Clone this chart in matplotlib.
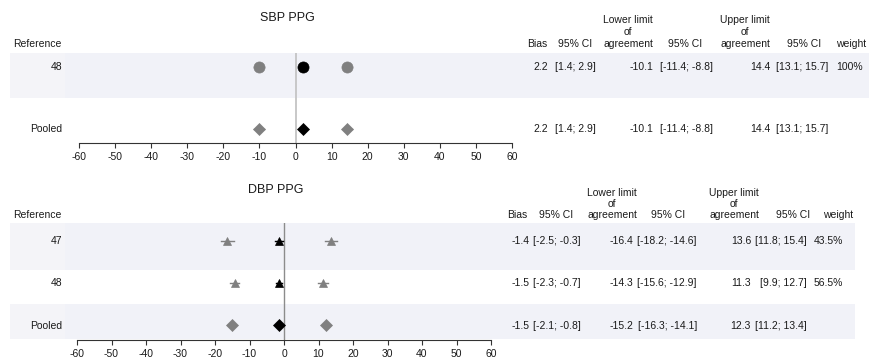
import matplotlib
matplotlib.use("Agg")
import matplotlib.pyplot as plt
from matplotlib.patches import Rectangle

plt.rcParams['font.family'] = ['Liberation Sans', 'DejaVu Sans']

# ---- data ----
sbp_refs = ["48"]
sbp_bias = [2.2]
sbp_bias_ci = [(1.4, 2.9)]
sbp_lla = [-10.1]
sbp_lla_ci = [(-11.4, -8.8)]
sbp_ula = [14.4]
sbp_ula_ci = [(13.1, 15.7)]
sbp_weight = ["100%"]
sbp_pooled_bias = 2.2
sbp_pooled_bias_ci = (1.4, 2.9)
sbp_pooled_lla = -10.1
sbp_pooled_lla_ci = (-11.4, -8.8)
sbp_pooled_ula = 14.4
sbp_pooled_ula_ci = (13.1, 15.7)

dbp_refs = ["47", "48"]
dbp_bias = [-1.4, -1.5]
dbp_bias_ci = [(-2.5, -0.3), (-2.3, -0.7)]
dbp_lla = [-16.4, -14.3]
dbp_lla_ci = [(-18.2, -14.6), (-15.6, -12.9)]
dbp_ula = [13.6, 11.3]
dbp_ula_ci = [(11.8, 15.4), (9.9, 12.7)]
dbp_weight = ["43.5%", "56.5%"]
dbp_pooled_bias = -1.5
dbp_pooled_bias_ci = (-2.1, -0.8)
dbp_pooled_lla = -15.2
dbp_pooled_lla_ci = (-16.3, -14.1)
dbp_pooled_ula = 12.3
dbp_pooled_ula_ci = (11.2, 13.4)

xticks = list(range(-60, 61, 10))

# ---- figure ----
W, H = 870, 361
fig = plt.figure(figsize=(W / 100, H / 100), dpi=100)
FS = 7.5
GREY = '#808080'
BAND = '#f1f2f8'
BAND_LEFT = '#f4f4f8'


def fx(x):
    return x / W


def fy(y):
    return 1 - y / H


def txt(x, y, s, ha='left', size=FS, **kw):
    fig.text(fx(x), fy(y), s, ha=ha, va='center', fontsize=size,
             color='#1a1a1a', **kw)


def band(x0, x1, y0, y1):
    for a, b, c in ((x0, 65, BAND_LEFT), (65, x1, BAND)):
        fig.patches.append(Rectangle((fx(a), fy(y1)), fx(b) - fx(a),
                                     fy(y0) - fy(y1),
                                     transform=fig.transFigure,
                                     facecolor=c, edgecolor='none',
                                     zorder=-5))


def fmt(v):
    return f"{v:.1f}"


def fmt_ci(ci):
    return f"[{ci[0]:.1f}; {ci[1]:.1f}]"


def make_axes(left, right, top, bottom, ylim, zero_color, zero_lw):
    ax = fig.add_axes([fx(left), fy(bottom), fx(right) - fx(left),
                       fy(top) - fy(bottom)])
    ax.set_facecolor('none')
    ax.set_xlim(-60, 60)
    ax.set_ylim(*ylim)
    for s in ('top', 'right', 'left'):
        ax.spines[s].set_visible(False)
    ax.spines['bottom'].set_color('#333333')
    ax.spines['bottom'].set_linewidth(0.8)
    ax.set_yticks([])
    ax.set_xticks(xticks)
    ax.set_xticklabels([str(t) for t in xticks])
    ax.tick_params(axis='x', length=3.8, width=0.8, pad=2.5, labelsize=FS,
                   color='#333333', labelcolor='#1a1a1a')
    ax.axvline(0, color=zero_color, lw=zero_lw, zorder=1)
    return ax


def draw_row(ax, y, bias, bias_ci, lla, lla_ci, ula, ula_ci, marker, ms):
    for v, ci, col in ((lla, lla_ci, GREY), (ula, ula_ci, GREY),
                       (bias, bias_ci, 'black')):
        ax.plot([ci[0], ci[1]], [y, y], color=col, lw=1.0, zorder=2)
        ax.plot([v], [y], marker=marker, ms=ms, color=col, mec=col,
                mew=0.5, linestyle='none', zorder=3)


# ================= SBP panel =================
band(10, 870, 53, 98)
ax1 = make_axes(79, 512, 53, 143, (-14 / 62, 1 + 14 / 62), '#c4c4c4', 1.3)
draw_row(ax1, 1, sbp_bias[0], sbp_bias_ci[0], sbp_lla[0], sbp_lla_ci[0],
         sbp_ula[0], sbp_ula_ci[0], 'o', 8)
draw_row(ax1, 0, sbp_pooled_bias, sbp_pooled_bias_ci, sbp_pooled_lla,
         sbp_pooled_lla_ci, sbp_pooled_ula, sbp_pooled_ula_ci, 'D', 6.4)

txt(287, 18, "SBP PPG", ha='center', size=9)
txt(62, 44, "Reference", ha='right')
txt(62, 67, sbp_refs[0], ha='right')
txt(62, 129, "Pooled", ha='right')

# table header
for x, lines in ((537, ["Bias"]), (575, ["95% CI"]),
                 (628, ["Lower limit", "of", "agreement"]), (685, ["95% CI"]),
                 (745, ["Upper limit", "of", "agreement"]), (804, ["95% CI"]),
                 (851, ["weight"])):
    for i, s in enumerate(reversed(lines)):
        txt(x, 44 - 12 * i, s, ha='center')

top_cols = (548, 596, 653, 713, 770, 828, 863)
rows = [(67, sbp_bias[0], sbp_bias_ci[0], sbp_lla[0], sbp_lla_ci[0],
         sbp_ula[0], sbp_ula_ci[0], sbp_weight[0]),
        (129, sbp_pooled_bias, sbp_pooled_bias_ci, sbp_pooled_lla,
         sbp_pooled_lla_ci, sbp_pooled_ula, sbp_pooled_ula_ci, "")]
for y, b, bci, l, lci, u, uci, w in rows:
    vals = (fmt(b), fmt_ci(bci), fmt(l), fmt_ci(lci), fmt(u), fmt_ci(uci), w)
    for x, s in zip(top_cols, vals):
        txt(x, y, s, ha='right')

# ================= DBP panel =================
band(10, 855, 223, 270)
band(10, 855, 304, 339)
ax2 = make_axes(77, 491, 223, 340, (-15 / 42, 2 + 18 / 42), '#8c8c8c', 1.0)
for i in range(len(dbp_refs)):
    draw_row(ax2, 2 - i, dbp_bias[i], dbp_bias_ci[i], dbp_lla[i],
             dbp_lla_ci[i], dbp_ula[i], dbp_ula_ci[i], '^', 6)
draw_row(ax2, 0, dbp_pooled_bias, dbp_pooled_bias_ci, dbp_pooled_lla,
         dbp_pooled_lla_ci, dbp_pooled_ula, dbp_pooled_ula_ci, 'D', 6.4)

txt(276, 190, "DBP PPG", ha='center', size=9)
txt(62, 215, "Reference", ha='right')
txt(62, 241, dbp_refs[0], ha='right')
txt(62, 283, dbp_refs[1], ha='right')
txt(62, 326, "Pooled", ha='right')

for x, lines in ((517, ["Bias"]), (556, ["95% CI"]),
                 (612, ["Lower limit", "of", "agreement"]), (668, ["95% CI"]),
                 (734, ["Upper limit", "of", "agreement"]), (793, ["95% CI"]),
                 (838, ["weight"])):
    for i, s in enumerate(reversed(lines)):
        txt(x, 215 - 11 * i, s, ha='center')

bot_cols = (530, 581, 633, 697, 751, 807, 843)
rows = [(241, dbp_bias[0], dbp_bias_ci[0], dbp_lla[0], dbp_lla_ci[0],
         dbp_ula[0], dbp_ula_ci[0], dbp_weight[0]),
        (283, dbp_bias[1], dbp_bias_ci[1], dbp_lla[1], dbp_lla_ci[1],
         dbp_ula[1], dbp_ula_ci[1], dbp_weight[1]),
        (326, dbp_pooled_bias, dbp_pooled_bias_ci, dbp_pooled_lla,
         dbp_pooled_lla_ci, dbp_pooled_ula, dbp_pooled_ula_ci, "")]
for y, b, bci, l, lci, u, uci, w in rows:
    vals = (fmt(b), fmt_ci(bci), fmt(l), fmt_ci(lci), fmt(u), fmt_ci(uci), w)
    for x, s in zip(bot_cols, vals):
        txt(x, y, s, ha='right')

fig.savefig("out.png", dpi=100, facecolor='white')
